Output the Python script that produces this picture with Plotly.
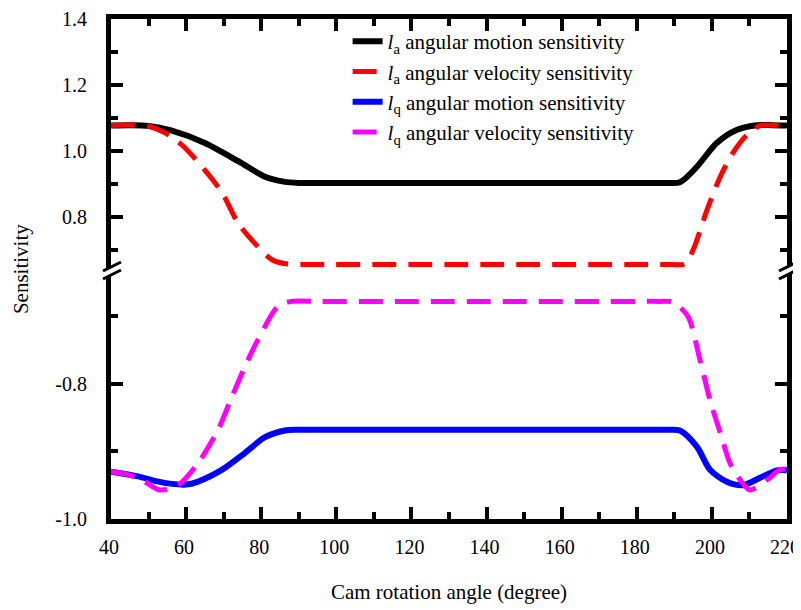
import plotly.graph_objects as go

# ---------------- data ----------------
la_motion_x = [40, 45, 50, 56, 65, 74, 81, 86, 90, 100, 110, 120, 130, 140, 150, 160, 170, 180, 188, 191.5, 196, 201.3, 206.7, 212, 216, 220]
la_motion_y = [1.077, 1.078, 1.076, 1.062, 1.024, 0.968, 0.922, 0.907, 0.903, 0.903, 0.903, 0.903, 0.903, 0.903, 0.903, 0.903, 0.903, 0.903, 0.903, 0.905, 0.952, 1.024, 1.064, 1.078, 1.078, 1.077]

la_vel_x = [40, 46, 50, 54.4, 58.9, 65, 69.6, 73.8, 77.5, 82.9, 87, 92, 100, 110, 120, 130, 140, 150, 160, 170, 180, 188, 192.8, 195, 198.7, 202.2, 205.6, 209.3, 212.8, 216, 220]
la_vel_y = [1.077, 1.079, 1.075, 1.055, 1.018, 0.942, 0.873, 0.782, 0.73, 0.67, 0.657, 0.656, 0.656, 0.656, 0.656, 0.656, 0.656, 0.656, 0.656, 0.656, 0.656, 0.656, 0.658, 0.70, 0.821, 0.921, 0.994, 1.048, 1.077, 1.078, 1.077]

lq_motion_x = [40, 47.2, 52, 56.2, 60, 63, 69.6, 75.7, 81, 86.3, 90, 100, 110, 120, 130, 140, 150, 160, 170, 180, 188, 191.5, 196, 199.5, 204, 208.3, 212.8, 217.3, 220]
lq_motion_y = [-0.930, -0.937, -0.944, -0.948, -0.949, -0.945, -0.927, -0.902, -0.879, -0.869, -0.868, -0.868, -0.868, -0.868, -0.868, -0.868, -0.868, -0.868, -0.868, -0.868, -0.868, -0.869, -0.893, -0.927, -0.945, -0.950, -0.939, -0.928, -0.928]

lq_vel_x = [40, 45, 49, 53, 57.8, 63.2, 68.5, 72.2, 75.7, 79.1, 84.5, 88, 95, 100, 110, 120, 130, 140, 150, 160, 170, 180, 186, 189.6, 193.6, 196.8, 199.5, 202.2, 204.8, 207.5, 210.1, 214.7, 218.1, 220]
lq_vel_y = [-0.930, -0.935, -0.945, -0.957, -0.950, -0.917, -0.868, -0.819, -0.774, -0.735, -0.685, -0.678, -0.678, -0.678, -0.678, -0.678, -0.678, -0.678, -0.678, -0.678, -0.678, -0.678, -0.678, -0.679, -0.700, -0.764, -0.824, -0.872, -0.917, -0.942, -0.957, -0.942, -0.927, -0.926]

x_ticks = [40, 60, 80, 100, 120, 140, 160, 180, 200, 220]
upper_ticks = [0.8, 1.0, 1.2, 1.4]
upper_labels = ["0.8", "1.0", "1.2", "1.4"]
lower_ticks = [-1.0, -0.8]
lower_labels = ["-1.0", "-0.8"]

names = [
    "<i>l</i><sub>a</sub> angular motion sensitivity",
    "<i>l</i><sub>a</sub> angular velocity sensitivity",
    "<i>l</i><sub>q</sub> angular motion sensitivity",
    "<i>l</i><sub>q</sub> angular velocity sensitivity",
]

FONT = "Liberation Serif"
SPLIT = 0.496

fig = go.Figure()
fig.add_trace(go.Scatter(x=la_motion_x, y=la_motion_y, mode="lines", name=names[0],
                         line=dict(color="black", width=6, shape="spline", smoothing=0.8),
                         xaxis="x2", yaxis="y2", legendgroup="a", legendrank=1))
fig.add_trace(go.Scatter(x=la_vel_x, y=la_vel_y, mode="lines", name=names[1],
                         line=dict(color="#ff0000", width=5, dash="24px,12px", shape="spline", smoothing=0.8),
                         xaxis="x2", yaxis="y2", legendgroup="b", legendrank=2))
fig.add_trace(go.Scatter(x=lq_motion_x, y=lq_motion_y, mode="lines", name=names[2],
                         line=dict(color="#0000ff", width=6, shape="spline", smoothing=0.8),
                         xaxis="x", yaxis="y", legendgroup="c", legendrank=3))
fig.add_trace(go.Scatter(x=lq_vel_x, y=lq_vel_y, mode="lines", name=names[3],
                         line=dict(color="#ff00ff", width=5, dash="24px,12px", shape="spline", smoothing=0.8),
                         xaxis="x", yaxis="y", legendgroup="d", legendrank=4))

axis_common = dict(showline=True, linecolor="black", linewidth=5, ticks="inside",
                   tickcolor="black", tickwidth=4, ticklen=12, showgrid=False, zeroline=False,
                   automargin=False, ticklabeloverflow="allow",
                   tickfont=dict(family=FONT, size=20, color="black"))
minor_common = dict(ticks="inside", ticklen=7, tickwidth=4, tickcolor="black")

# the page body has an 8px margin, so the figure is sized to fit the window inside it
fig.update_layout(
    template="none",
    width=793, height=602,
    margin=dict(l=103, r=14, t=11, b=91, autoexpand=False),
    paper_bgcolor="white", plot_bgcolor="white",
    font=dict(family=FONT, size=21, color="black"),
    showlegend=True,
    legend=dict(x=0.35, y=0.996, xanchor="left", yanchor="top", bgcolor="rgba(0,0,0,0)",
                font=dict(family=FONT, size=21, color="black"), tracegroupgap=0,
                borderwidth=0),
    xaxis=dict(**axis_common, range=[40, 220], anchor="y", tickvals=x_ticks,
               minor=dict(dtick=10, tick0=0, **minor_common),
               ticklabelstandoff=6, ticklabelshift=-2,
               title=dict(text="Cam rotation angle (degree)", standoff=29,
                          font=dict(family=FONT, size=21, color="black"))),
    xaxis2=dict(**axis_common, range=[40, 220], anchor="y2", matches="x", side="top",
                showticklabels=False, tickvals=x_ticks,
                minor=dict(dtick=10, tick0=0, **minor_common)),
    yaxis=dict(**axis_common, domain=[0, SPLIT], range=[-1.0, -0.633], mirror="ticks",
               tickvals=lower_ticks, ticktext=lower_labels, ticklabelstandoff=15,
               minor=dict(dtick=0.1, tick0=0, **minor_common)),
    yaxis2=dict(**axis_common, domain=[SPLIT, 1], range=[0.636, 1.4], mirror="ticks",
                tickvals=upper_ticks, ticktext=upper_labels, ticklabelstandoff=15,
                minor=dict(dtick=0.1, tick0=0, **minor_common)),
)

# y-axis title placed at the left edge
fig.add_annotation(text="Sensitivity", xref="paper", yref="paper", x=-0.133, y=0.5,
                   xanchor="center", yanchor="middle", textangle=-90, showarrow=False,
                   font=dict(family=FONT, size=21, color="black"))

# axis break marks on both vertical axes
for xa in (0, 1):
    fig.add_shape(type="line", xref="paper", yref="paper", xsizemode="pixel", ysizemode="pixel",
                  xanchor=xa, yanchor=SPLIT, x0=-8, x1=10, y0=-4, y1=5,
                  line=dict(color="white", width=6), layer="above")
    fig.add_shape(type="line", xref="paper", yref="paper", xsizemode="pixel", ysizemode="pixel",
                  xanchor=xa, yanchor=SPLIT, x0=-8, x1=10, y0=0, y1=9,
                  line=dict(color="black", width=3), layer="above")
    fig.add_shape(type="line", xref="paper", yref="paper", xsizemode="pixel", ysizemode="pixel",
                  xanchor=xa, yanchor=SPLIT, x0=-8, x1=10, y0=-8, y1=1,
                  line=dict(color="black", width=3), layer="above")

fig.write_html("out.html")
